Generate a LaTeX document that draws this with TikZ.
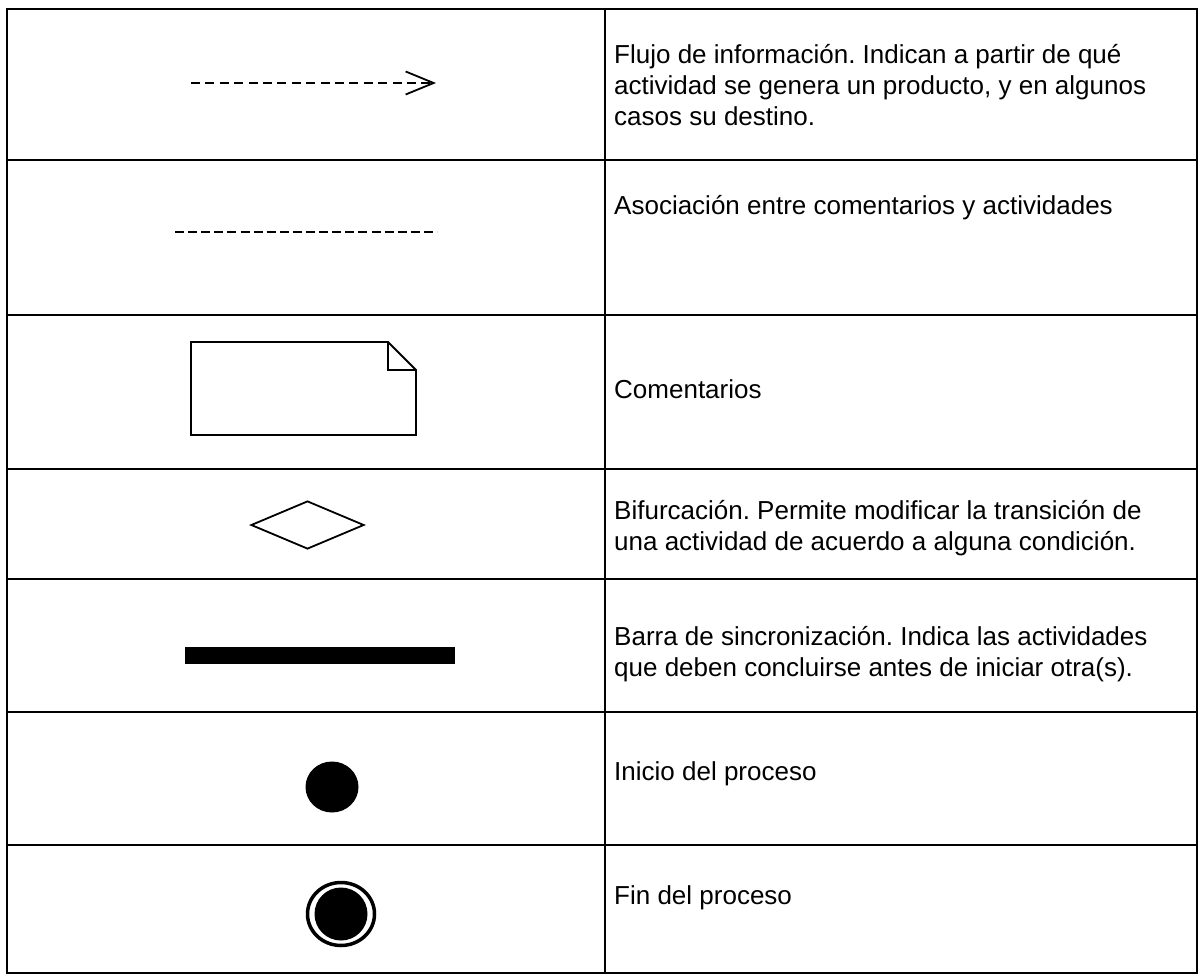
\documentclass[tikz,border=0pt]{standalone}
\usepackage{fontspec}
\setmainfont{Liberation Sans}
\usetikzlibrary{arrows.meta,shapes.geometric}
\frenchspacing
\begin{document}
\begin{tikzpicture}[x=1pt,y=-1pt,
  grid/.style={line width=2pt,black},
  txt/.style={anchor=base west,inner sep=0pt,font=\fontsize{26}{31}\selectfont},
  sym/.style={line width=1.8pt,black}]
\useasboundingbox (0,0) rectangle (1201,976);
\fill[white] (0,0) rectangle (1201,976);
% table
\draw[grid,line width=2.5pt] (7,9) rectangle (1197,973);
\draw[grid,line width=1.6pt] (605,9) -- (605,973);
\foreach \yy in {160,315,469,579,712,845}
  \draw[grid] (7,\yy) -- (1197,\yy);
% row 1: information flow
\coordinate (f1) at (191,83);
\coordinate (f2) at (436,83);
\draw[sym,dash pattern=on 9pt off 5.4pt,-{Straight Barb[length=28pt,width=23pt,line width=1.8pt]}] (f1) -- (f2);
\node[txt] (t1a) at (614,64) {Flujo de información. Indican a partir de qué};
\node[txt] (t1b) at (614,95) {actividad se genera un producto, y en algunos};
\node[txt] (t1c) at (614,126) {casos su destino.};
% row 2: association
\coordinate (d1) at (175,232);
\coordinate (d2) at (437,232);
\draw[sym,dash pattern=on 9pt off 4.1pt] (d1) -- (d2);
\node[txt] (t2a) at (614,215) {Asociación entre comentarios y actividades};
% row 3: comment
\draw[sym] (191,342) -- (388,342) -- (416,370) -- (416,435) -- (191,435) -- cycle;
\draw[sym] (388,342) -- (388,370) -- (416,370);
\node[txt] (t3a) at (614,398) {Comentarios};
% row 4: decision
\node[sym,draw,diamond,minimum width=113pt,minimum height=48pt,inner sep=0pt] (dia) at (307.5,525) {};
\node[txt] (t4a) at (614,519) {Bifurcación. Permite modificar la transición de};
\node[txt] (t4b) at (614,550) {una actividad de acuerdo a alguna condición.};
% row 5: sync bar
\node[fill=black,minimum width=270pt,minimum height=17pt,inner sep=0pt] (bar) at (320,655.5) {};
\node[txt] (t5a) at (614,645) {Barra de sincronización. Indica las actividades};
\node[txt] (t5b) at (614,676) {que deben concluirse antes de iniciar otra(s).};
% row 6: start
\node[fill=black,ellipse,minimum width=53pt,minimum height=51pt,inner sep=0pt] (ini) at (332,787) {};
\node[txt] (t6a) at (614,780) {Inicio del proceso};
% row 7: end
\node[draw=black,line width=3.5pt,ellipse,minimum width=67pt,minimum height=63pt,inner sep=0pt] (fin) at (341,914) {};
\node[fill=black,circle,minimum size=53pt,inner sep=0pt] (finc) at (fin.center) {};
\node[txt] (t7a) at (614,904) {Fin del proceso};
\end{tikzpicture}
\end{document}
